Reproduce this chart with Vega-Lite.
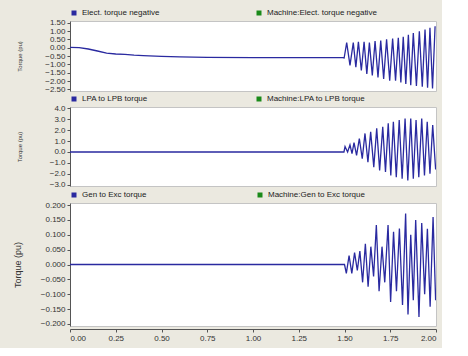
{
  "$schema": "https://vega.github.io/schema/vega-lite/v6.json",
  "background": "#ebe9e0",
  "padding": {"left": 12, "top": 8, "right": 5, "bottom": 5},
  "spacing": 0,
  "config": {
    "font": "Liberation Sans",
    "view": {"stroke": "#c4c4c4", "fill": "white"},
    "axis": {"labelFont": "Liberation Sans", "labelFontSize": 8, "labelColor": "#333333", "domainColor": "#555555", "tickColor": "#555555", "tickSize": 3, "grid": false, "titleFont": "Liberation Sans", "titleFontWeight": "normal", "titleColor": "#333333"},
    "legend": {"labelFont": "Liberation Sans", "labelFontSize": 8, "labelColor": "#222222", "symbolType": "square", "symbolSize": 4, "symbolStrokeWidth": 3, "orient": "top", "direction": "horizontal", "offset": 1, "padding": 0, "title": null}
  },
  "datasets": {
    "p1": [
      {"t": 0, "v": 0.02}, {"t": 0.05, "v": 0.0}, {"t": 0.1, "v": -0.08}, {"t": 0.15, "v": -0.2},
      {"t": 0.2, "v": -0.33}, {"t": 0.25, "v": -0.38}, {"t": 0.3, "v": -0.4}, {"t": 0.35, "v": -0.45},
      {"t": 0.4, "v": -0.48}, {"t": 0.5, "v": -0.52}, {"t": 0.6, "v": -0.55}, {"t": 0.75, "v": -0.58},
      {"t": 1.0, "v": -0.6}, {"t": 1.25, "v": -0.6}, {"t": 1.49, "v": -0.6}, {"t": 1.498, "v": -0.62},
      {"t": 1.512, "v": 0.3}, {"t": 1.53, "v": -1.06}, {"t": 1.548, "v": 0.3}, {"t": 1.562, "v": -1.17},
      {"t": 1.576, "v": 0.35}, {"t": 1.592, "v": -1.37}, {"t": 1.607, "v": 0.35}, {"t": 1.622, "v": -1.57},
      {"t": 1.636, "v": 0.3}, {"t": 1.652, "v": -1.67}, {"t": 1.667, "v": 0.4}, {"t": 1.683, "v": -1.78},
      {"t": 1.698, "v": 0.42}, {"t": 1.714, "v": -1.88}, {"t": 1.73, "v": 0.5}, {"t": 1.747, "v": -1.98},
      {"t": 1.763, "v": 0.55}, {"t": 1.779, "v": -1.98}, {"t": 1.794, "v": 0.6}, {"t": 1.808, "v": -2.09},
      {"t": 1.821, "v": 0.65}, {"t": 1.835, "v": -2.18}, {"t": 1.849, "v": 0.78}, {"t": 1.862, "v": -2.25},
      {"t": 1.876, "v": 0.88}, {"t": 1.893, "v": -2.3}, {"t": 1.909, "v": 0.98}, {"t": 1.925, "v": -2.35},
      {"t": 1.94, "v": 1.09}, {"t": 1.954, "v": -2.4}, {"t": 1.967, "v": 1.19}, {"t": 1.981, "v": -2.45},
      {"t": 1.995, "v": 1.29}
    ],
    "p2": [
      {"t": 0, "v": 0}, {"t": 1.497, "v": 0}, {"t": 1.503, "v": 0.5}, {"t": 1.517, "v": 0.0},
      {"t": 1.53, "v": 0.65}, {"t": 1.541, "v": -0.15}, {"t": 1.552, "v": 0.85}, {"t": 1.566, "v": -0.3},
      {"t": 1.581, "v": 1.23}, {"t": 1.597, "v": -0.6}, {"t": 1.612, "v": 1.69}, {"t": 1.628, "v": -0.92},
      {"t": 1.643, "v": 1.83}, {"t": 1.66, "v": -1.38}, {"t": 1.676, "v": 2.15}, {"t": 1.692, "v": -1.68},
      {"t": 1.709, "v": 2.29}, {"t": 1.724, "v": -1.83}, {"t": 1.739, "v": 2.61}, {"t": 1.753, "v": -2.14},
      {"t": 1.767, "v": 2.75}, {"t": 1.783, "v": -2.29}, {"t": 1.799, "v": 2.91}, {"t": 1.815, "v": -2.44},
      {"t": 1.831, "v": 3.06}, {"t": 1.846, "v": -2.6}, {"t": 1.862, "v": 3.06}, {"t": 1.876, "v": -2.44},
      {"t": 1.891, "v": 2.91}, {"t": 1.906, "v": -2.29}, {"t": 1.922, "v": 3.06}, {"t": 1.937, "v": -2.14},
      {"t": 1.952, "v": 2.75}, {"t": 1.967, "v": -1.98}, {"t": 1.982, "v": 2.45}, {"t": 1.998, "v": -1.6}
    ],
    "p3": [
      {"t": 0, "v": 0}, {"t": 1.5, "v": 0}, {"t": 1.51, "v": -0.03}, {"t": 1.525, "v": 0.03},
      {"t": 1.54, "v": -0.03}, {"t": 1.555, "v": 0.04}, {"t": 1.57, "v": -0.02}, {"t": 1.584, "v": 0.045},
      {"t": 1.599, "v": -0.06}, {"t": 1.614, "v": 0.07}, {"t": 1.629, "v": -0.075}, {"t": 1.644, "v": 0.06},
      {"t": 1.659, "v": -0.04}, {"t": 1.674, "v": 0.133}, {"t": 1.689, "v": -0.09}, {"t": 1.705, "v": 0.06},
      {"t": 1.72, "v": -0.06}, {"t": 1.738, "v": 0.133}, {"t": 1.752, "v": -0.126}, {"t": 1.768, "v": 0.11},
      {"t": 1.784, "v": -0.09}, {"t": 1.8, "v": 0.121}, {"t": 1.817, "v": -0.136}, {"t": 1.834, "v": 0.172},
      {"t": 1.847, "v": -0.168}, {"t": 1.862, "v": 0.1}, {"t": 1.876, "v": -0.12}, {"t": 1.889, "v": 0.15},
      {"t": 1.907, "v": -0.177}, {"t": 1.922, "v": 0.14}, {"t": 1.938, "v": -0.1}, {"t": 1.953, "v": 0.12},
      {"t": 1.968, "v": -0.142}, {"t": 1.984, "v": 0.16}, {"t": 1.998, "v": -0.12}
    ]
  },
  "vconcat": [
    {
      "width": 366, "height": 70,
      "data": {"name": "p1"},
      "mark": {"type": "line", "strokeWidth": 1.3, "clip": true},
      "encoding": {
        "x": {"field": "t", "type": "quantitative", "scale": {"domain": [0, 2], "nice": false}, "axis": {"labels": false, "ticks": false, "domain": false, "title": null, "minExtent": 1, "maxExtent": 1}},
        "y": {"field": "v", "type": "quantitative", "scale": {"domain": [-2.6, 1.6], "nice": false, "zero": false}, "axis": {"values": [1.5, 1.0, 0.5, 0, -0.5, -1.0, -1.5, -2.0, -2.5], "format": ".2f", "title": "Torque (pu)", "titleFontSize": 6, "titlePadding": 22}},
        "color": {"datum": "Elect. torque negative", "type": "nominal", "scale": {"domain": ["Elect. torque negative", "Machine:Elect. torque negative"], "range": ["#2a2aa0", "#1a8a1a"]}, "legend": {"columnPadding": 92}}
      }
    },
    {
      "width": 366, "height": 79,
      "data": {"name": "p2"},
      "mark": {"type": "line", "strokeWidth": 1.3, "clip": true},
      "encoding": {
        "x": {"field": "t", "type": "quantitative", "scale": {"domain": [0, 2], "nice": false}, "axis": {"labels": false, "ticks": false, "domain": false, "title": null, "minExtent": 0, "maxExtent": 0}},
        "y": {"field": "v", "type": "quantitative", "scale": {"domain": [-3.1, 4.1], "nice": false, "zero": false}, "axis": {"values": [4, 3, 2, 1, 0, -1, -2, -3], "format": ".1f", "title": "Torque (pu)", "titleFontSize": 6, "titlePadding": 27}},
        "color": {"datum": "LPA to LPB torque", "type": "nominal", "scale": {"domain": ["LPA to LPB torque", "Machine:LPA to LPB torque"], "range": ["#2a2aa0", "#1a8a1a"]}, "legend": {"columnPadding": 104}}
      }
    },
    {
      "width": 366, "height": 123,
      "data": {"name": "p3"},
      "mark": {"type": "line", "strokeWidth": 1.3, "clip": true},
      "encoding": {
        "x": {"field": "t", "type": "quantitative", "scale": {"domain": [0, 2], "nice": false}, "axis": {"values": [0, 0.25, 0.5, 0.75, 1.0, 1.25, 1.5, 1.75, 2.0], "format": ".2f", "title": null, "offset": 3}},
        "y": {"field": "v", "type": "quantitative", "scale": {"domain": [-0.207, 0.207], "nice": false, "zero": false}, "axis": {"values": [0.2, 0.15, 0.1, 0.05, 0, -0.05, -0.1, -0.15, -0.2], "format": ".3f", "title": "Torque (pu)", "titleFontSize": 9, "titlePadding": 18}},
        "color": {"datum": "Gen to Exc torque", "type": "nominal", "scale": {"domain": ["Gen to Exc torque", "Machine:Gen to Exc torque"], "range": ["#2a2aa0", "#1a8a1a"]}, "legend": {"columnPadding": 106}}
      }
    }
  ],
  "resolve": {"scale": {"color": "independent", "x": "independent", "y": "independent"}, "legend": {"color": "independent"}}
}
